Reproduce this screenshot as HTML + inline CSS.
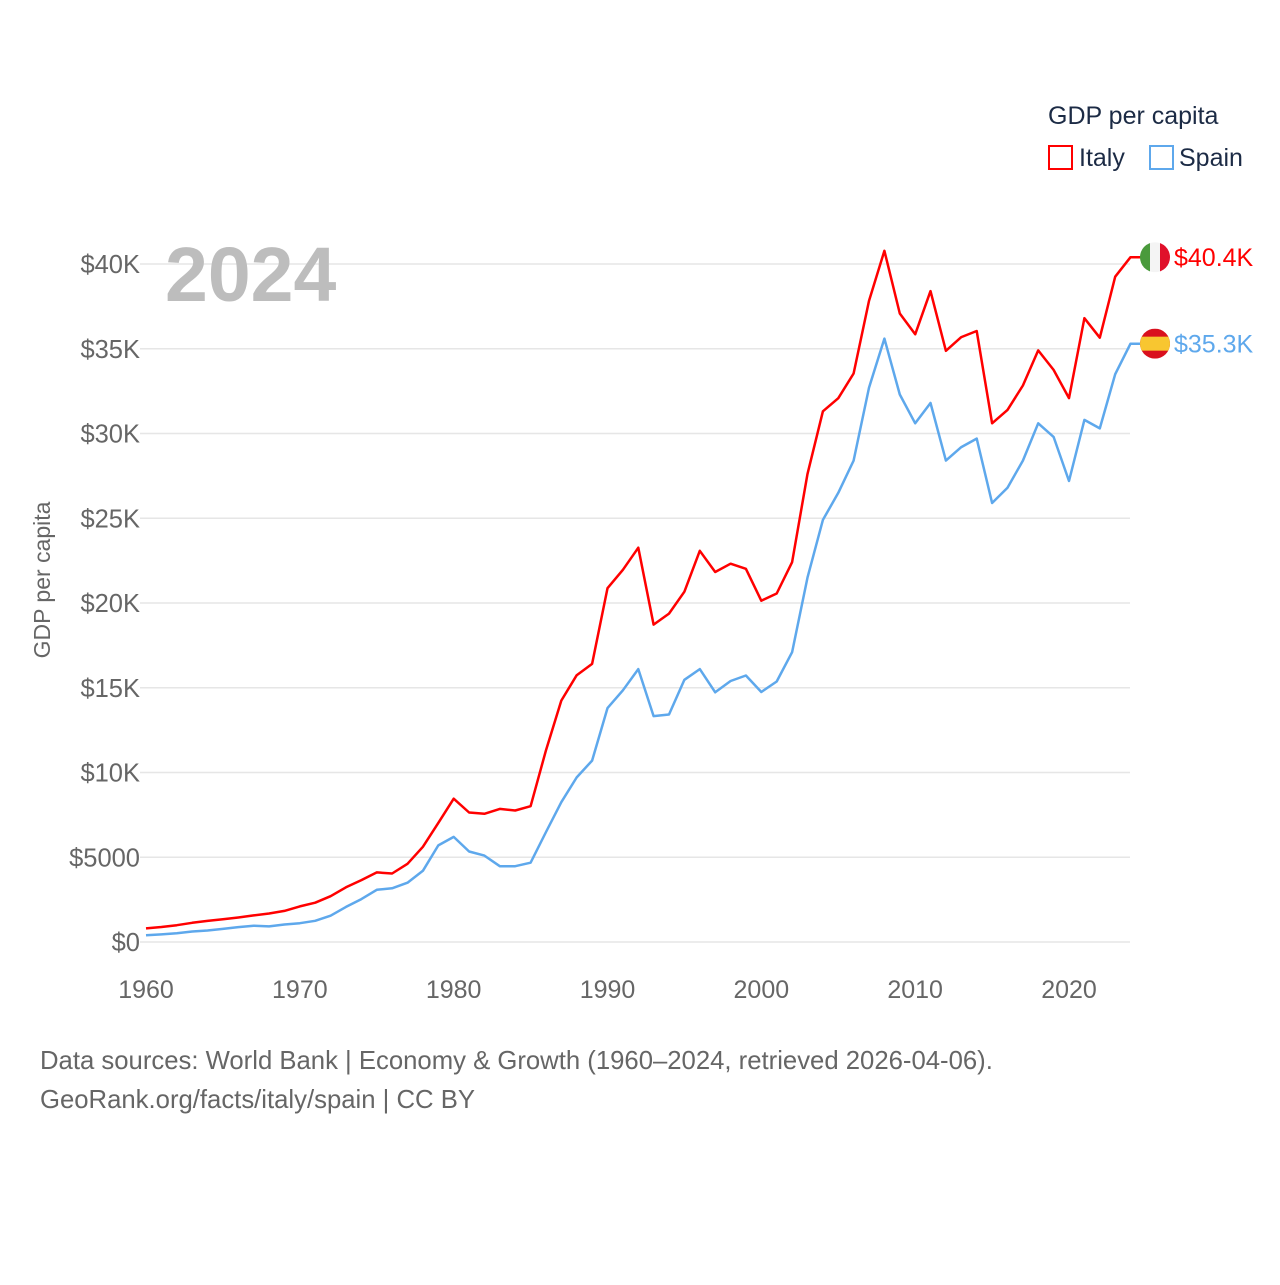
<!DOCTYPE html>
<html><head><meta charset="utf-8"><style>
body{margin:0;background:#fff;font-family:"Liberation Sans",sans-serif}
svg text{font-family:"Liberation Sans",sans-serif}
</style></head><body>
<svg id="chart" width="1280" height="1280" viewBox="0 0 1280 1280">
<text x="1048" y="124" font-size="25" fill="#1c2b45">GDP per capita</text>
<g><rect x="1049" y="146" width="23" height="23" fill="none" stroke="#f00" stroke-width="2"/><text x="1079" y="166" font-size="25" fill="#1c2b45">Italy</text></g>
<g><rect x="1150" y="146" width="23" height="23" fill="none" stroke="#5ea8ec" stroke-width="2"/><text x="1179" y="166" font-size="25" fill="#1c2b45">Spain</text></g>
<g id="grid"></g><g id="lines"></g>
<text x="165" y="301" font-size="77" font-weight="bold" fill="#bdbdbd">2024</text>
<text transform="translate(50,580) rotate(-90)" text-anchor="middle" font-size="23" fill="#666">GDP per capita</text>
<text x="40" y="1069" font-size="25.7" fill="#666">Data sources: World Bank | Economy &amp; Growth (1960–2024, retrieved 2026-04-06).</text>
<text x="40" y="1108" font-size="25.7" fill="#666">GeoRank.org/facts/italy/spain | CC BY</text>
</svg>
<script>
const years=[];for(let y=1960;y<=2024;y++)years.push(y);
const italy=[804,887,990,1134,1245,1339,1444,1567,1681,1834,2102,2318,2703,3230,3650,4104,4042,4614,5615,7028,8457,7640,7565,7852,7757,8011,11315,14240,15742,16408,20875,21957,23264,18728,19377,20664,23082,21829,22318,22016,20138,20558,22405,27614,31307,32081,33541,37822,40779,37079,35850,38400,34880,35685,36050,30600,31390,32830,34900,33750,32090,36800,35650,39250,40400];
const spain=[396,449,520,617,681,774,880,960,918,1030,1112,1250,1550,2070,2530,3080,3170,3500,4200,5700,6200,5340,5100,4470,4470,4680,6490,8250,9710,10700,13800,14850,16100,13330,13420,15470,16100,14730,15400,15720,14750,15370,17100,21500,24900,26500,28400,32700,35600,32300,30600,31800,28400,29200,29700,25900,26800,28400,30600,29800,27200,30800,30300,33500,35300];
const yTicks=[0,5000,10000,15000,20000,25000,30000,35000,40000];
const yTickLabels=["$0","$5000","$10K","$15K","$20K","$25K","$30K","$35K","$40K"];
const xTicks=[1960,1970,1980,1990,2000,2010,2020];
const NS="http://www.w3.org/2000/svg";
const X=y=>146+(y-1960)*(923/60);
const Y=v=>942-v*(678/40000);
const grid=document.getElementById('grid'),lines=document.getElementById('lines');
function mk(tag,attrs,parent,txt){const e=document.createElementNS(NS,tag);for(const k in attrs)e.setAttribute(k,attrs[k]);if(txt!==undefined)e.textContent=txt;parent.appendChild(e);return e;}
yTicks.forEach((v,i)=>{
 const l=mk('line',{x1:140,x2:1130,y1:Y(v),y2:Y(v),stroke:'#e6e6e6','stroke-width':1.5},grid);
 
 
 const t=mk('text',{x:140,y:Y(v)+9,'text-anchor':'end','font-size':25.5,fill:'#666'},grid,yTickLabels[i]);
 
 
});
xTicks.forEach(v=>{
 const t=mk('text',{x:X(v),y:998,'text-anchor':'middle','font-size':25,fill:'#666'},grid,String(v));
 
 
});
function series(vals,color,name,label,flag){
 let d=vals.map((v,i)=>(i?'L':'M')+X(years[i]).toFixed(1)+','+Y(v).toFixed(1)).join('');
 const last=vals[vals.length-1];
 d+='L'+(X(2024)+10)+','+Y(last).toFixed(1);
 const p=mk('path',{d:d,fill:'none',stroke:color,'stroke-width':2.5,'stroke-linejoin':'round'},lines);
 
 
 const cx=1155,cy=Y(last);
 const g=mk('g',{},lines);
 
 
 const cp=mk('clipPath',{id:'c'+name},g);mk('circle',{cx:cx,cy:cy,r:15},cp);
 const gg=mk('g',{'clip-path':'url(#c'+name+')'},g);
 if(flag==='it'){mk('rect',{x:cx-15,y:cy-15,width:10,height:30,fill:'#4a9a3c'},gg);mk('rect',{x:cx-5,y:cy-15,width:10,height:30,fill:'#f4f4f4'},gg);mk('rect',{x:cx+5,y:cy-15,width:10,height:30,fill:'#e0102a'},gg);}
 else{mk('rect',{x:cx-15,y:cy-15,width:30,height:30,fill:'#d9101e'},gg);mk('rect',{x:cx-15,y:cy-7,width:30,height:14,fill:'#f8c630'},gg);}
 const t=mk('text',{x:1174,y:cy+9,'font-size':25,fill:color},lines,label);
 
 
}
series(spain,'#5ea8ec','spain','$35.3K','es');
series(italy,'#ff0000','italy','$40.4K','it');
</script>
</body></html>
